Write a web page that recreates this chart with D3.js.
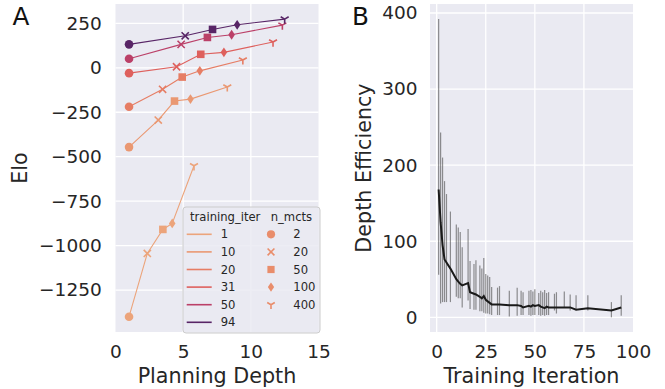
<!DOCTYPE html>
<html><head><meta charset="utf-8">
<script src="https://cdn.jsdelivr.net/npm/d3@7"></script>
<style>body{margin:0;background:#fff}svg{display:block;font-family:"DejaVu Sans",sans-serif}</style>
</head><body><svg id="c" width="665" height="389"></svg>
<script>
// ---------- Panel A data ----------
const trainingIters = [1, 10, 20, 31, 50, 94];
const iterColors = ["#eca47b", "#ea9872", "#e67d64", "#de605d", "#bb4068", "#582566"];
const nMcts = [2, 20, 50, 100, 400];
const markerKinds = ["circle", "x", "square", "diamond", "tri"];
const planningDepth = [
  [1.0, 2.35, 3.50, 4.19, 5.80],
  [1.0, 3.16, 4.36, 5.54, 8.26],
  [1.0, 3.48, 4.93, 6.23, 9.41],
  [1.0, 4.51, 6.30, 8.01, 11.64],
  [1.0, 4.85, 6.79, 8.58, 12.33],
  [1.0, 5.15, 7.17, 8.99, 12.50]
];
const elo = [
  [-1400, -1044, -909, -875, -551],
  [-446, -294, -187, -176, -108],
  [-219, -121, -52, -17, 44],
  [-30, 6, 76, 87, 145],
  [51, 132, 171, 186, 240],
  [132, 180, 216, 242, 274]
];
const eloTicks = [250, 0, -250, -500, -750, -1000, -1250];
const depthTicks = [0, 5, 10, 15];

// ---------- Panel B data ----------
const trainIter = [1,2,3,4,5,7,10,11,12,13,16,17,19,20,22,23,24,25,26,27,28,31,32,37,41,43,44,47,48,49,50,52,53,54,55,56,57,60,61,65,68,71,77,89,94];
const effMean   = [168,125,95,76,72,64,50,47,44,42,45,33,31,30,27,25,28,23,21,19,17,17,17,16,16,15,13,15,14,16,15,16,14,13,12,14,13,13,13,13,13,10,12,9,13];
const effLo     = [56,18,20,20,20,20,27,25,25,13,22,11,10,10,8,8,6,5,5,4,3,3,3,1,2,3,3,3,2,3,3,3,2,3,2,3,3,9,5,13,9,11,9,0,2];
const effHi     = [392,243,210,179,162,139,122,118,112,92,116,74,70,75,68,64,78,57,55,53,40,39,41,35,39,35,33,35,36,34,37,32,35,33,36,32,33,31,33,34,30,29,29,20,29];
const effTicks = [0, 100, 200, 300, 400];
const iterTicks = [0, 25, 50, 75, 100];

const svg = d3.select("#c");
const TXT = "#262626", BG = "#eaeaf2";
const tickFont = 18.5, labelFont = 20.7;

function symbolPath(kind, s) {
  const p = d3.path();
  if (kind === "circle") { p.arc(0, 0, 4.3 * s, 0, 2 * Math.PI); }
  else if (kind === "square") { const h = 3.8 * s; p.rect(-h, -h, 2 * h, 2 * h); }
  else if (kind === "diamond") { const w = 3.3 * s, h = 4.9 * s; p.moveTo(0, -h); p.lineTo(w, 0); p.lineTo(0, h); p.lineTo(-w, 0); p.closePath(); }
  else if (kind === "x") { const h = 3.6 * s; p.moveTo(-h, -h); p.lineTo(h, h); p.moveTo(-h, h); p.lineTo(h, -h); }
  else if (kind === "tri") { const r = 4.6 * s; p.moveTo(0, 0); p.lineTo(0, r); p.moveTo(0, 0); p.lineTo(-r * 0.866, -r * 0.5); p.moveTo(0, 0); p.lineTo(r * 0.866, -r * 0.5); }
  return p.toString();
}
function drawMarker(g, kind, x, y, color, s) {
  const filled = kind === "circle" || kind === "square" || kind === "diamond";
  g.append("path").attr("d", symbolPath(kind, s)).attr("transform", `translate(${x},${y})`)
    .attr("fill", filled ? color : "none").attr("stroke", filled ? "none" : color)
    .attr("stroke-width", filled ? 0 : 1.6);
}

// ---------- Panel A ----------
const axA = {l: 115.5, r: 318.5, t: 4, b: 332};
const xA = d3.scaleLinear().domain([0, 15]).range([axA.l, axA.r]);
const yA = d3.scaleLinear().domain([-1486, 359]).range([axA.b, axA.t]);
const gA = svg.append("g");
gA.append("rect").attr("x", axA.l).attr("y", axA.t).attr("width", axA.r - axA.l).attr("height", axA.b - axA.t).attr("fill", BG);
gA.selectAll(".gx").data(depthTicks.filter(d => xA(d) > axA.l + 1 && xA(d) < axA.r - 1)).join("line")
  .attr("x1", d => xA(d)).attr("x2", d => xA(d)).attr("y1", axA.t).attr("y2", axA.b).attr("stroke", "#fff").attr("stroke-width", 1.3);
gA.selectAll(".gy").data(eloTicks).join("line")
  .attr("y1", d => yA(d)).attr("y2", d => yA(d)).attr("x1", axA.l).attr("x2", axA.r).attr("stroke", "#fff").attr("stroke-width", 1.3);

const lineA = d3.line().x(d => xA(d[0])).y(d => yA(d[1]));
trainingIters.forEach((it, i) => {
  const pts = planningDepth[i].map((d, j) => [d, elo[i][j]]);
  gA.append("path").attr("d", lineA(pts)).attr("fill", "none").attr("stroke", iterColors[i]).attr("stroke-width", 1.1);
});
trainingIters.forEach((it, i) => {
  planningDepth[i].forEach((d, j) => drawMarker(gA, markerKinds[j], xA(d), yA(elo[i][j]), iterColors[i], 1));
});

const yAxA = gA.append("g").attr("transform", `translate(${axA.l},0)`)
  .call(d3.axisLeft(yA).tickValues(eloTicks).tickSize(0).tickPadding(13.8).tickFormat(d3.format("d")));
const xAxA = gA.append("g").attr("transform", `translate(0,${axA.b})`)
  .call(d3.axisBottom(xA).tickValues(depthTicks).tickSize(0).tickPadding(13.2).tickFormat(d3.format("d")));
[yAxA, xAxA].forEach(a => { a.select(".domain").remove(); a.selectAll("text").attr("fill", TXT).style("font-size", tickFont + "px").style("font-family", "DejaVu Sans"); });

gA.append("text").attr("x", (axA.l + axA.r) / 2).attr("y", 383).attr("text-anchor", "middle")
  .attr("fill", TXT).style("font-size", labelFont + "px").text("Planning Depth");
gA.append("text").attr("transform", `translate(27,${(axA.t + axA.b) / 2}) rotate(-90)`).attr("text-anchor", "middle")
  .attr("fill", TXT).style("font-size", labelFont + "px").text("Elo");
svg.append("text").attr("x", 12.5).attr("y", 25).attr("fill", "#111").style("font-size", "24.7px").text("A");

// Legend
const lg = gA.append("g");
lg.append("rect").attr("x", 183).attr("y", 207).attr("width", 137).attr("height", 126).attr("rx", 3)
  .attr("fill", BG).attr("fill-opacity", 0.85).attr("stroke", "#cccccc").attr("stroke-width", 1);
const lgFont = 11.6, rowY0 = 234.3, rowDy = 17.6;
lg.append("text").attr("x", 190).attr("y", 216.7).attr("dy", "0.35em").attr("fill", TXT).style("font-size", lgFont + "px").text("training_iter");
lg.append("text").attr("x", 270.7).attr("y", 216.7).attr("dy", "0.35em").attr("fill", TXT).style("font-size", lgFont + "px").text("n_mcts");
trainingIters.forEach((it, i) => {
  const y = rowY0 + i * rowDy;
  lg.append("line").attr("x1", 186.7).attr("x2", 211.7).attr("y1", y).attr("y2", y).attr("stroke", iterColors[i]).attr("stroke-width", 1.6);
  lg.append("text").attr("x", 220.7).attr("y", y).attr("dy", "0.35em").attr("fill", TXT).style("font-size", lgFont + "px").text(it);
});
nMcts.forEach((n, j) => {
  const y = rowY0 + j * rowDy;
  drawMarker(lg, markerKinds[j], 271, y, "#e98d6b", 0.95);
  lg.append("text").attr("x", 293.3).attr("y", y).attr("dy", "0.35em").attr("fill", TXT).style("font-size", lgFont + "px").text(n);
});

// ---------- Panel B ----------
const axB = {l: 430, r: 633, t: 4, b: 332};
const xB = d3.scaleLinear().domain([-3.4, 100]).range([axB.l, axB.r]);
const yB = d3.scaleLinear().domain([-19.3, 411.8]).range([axB.b, axB.t]);
const gB = svg.append("g");
gB.append("rect").attr("x", axB.l).attr("y", axB.t).attr("width", axB.r - axB.l).attr("height", axB.b - axB.t).attr("fill", BG);
gB.selectAll(".gx").data(iterTicks.filter(d => xB(d) > axB.l + 1 && xB(d) < axB.r - 1)).join("line")
  .attr("x1", d => xB(d)).attr("x2", d => xB(d)).attr("y1", axB.t).attr("y2", axB.b).attr("stroke", "#fff").attr("stroke-width", 1.3);
gB.selectAll(".gy").data(effTicks).join("line")
  .attr("y1", d => yB(d)).attr("y2", d => yB(d)).attr("x1", axB.l).attr("x2", axB.r).attr("stroke", "#fff").attr("stroke-width", 1.3);

gB.selectAll(".eb").data(trainIter).join("line")
  .attr("x1", d => xB(d)).attr("x2", d => xB(d))
  .attr("y1", (d, i) => yB(effLo[i])).attr("y2", (d, i) => yB(effHi[i]))
  .attr("stroke", "#4a4a4a").attr("stroke-opacity", 0.6).attr("stroke-width", 1.2);
gB.append("path").datum(trainIter.map((d, i) => [d, effMean[i]]))
  .attr("d", d3.line().x(d => xB(d[0])).y(d => yB(d[1])))
  .attr("fill", "none").attr("stroke", "#1a1a1a").attr("stroke-width", 2);

const yAxB = gB.append("g").attr("transform", `translate(${axB.l},0)`)
  .call(d3.axisLeft(yB).tickValues(effTicks).tickSize(0).tickPadding(12.5).tickFormat(d3.format("d")));
const xAxB = gB.append("g").attr("transform", `translate(0,${axB.b})`)
  .call(d3.axisBottom(xB).tickValues(iterTicks).tickSize(0).tickPadding(13.2).tickFormat(d3.format("d")));
[yAxB, xAxB].forEach(a => { a.select(".domain").remove(); a.selectAll("text").attr("fill", TXT).style("font-size", tickFont + "px").style("font-family", "DejaVu Sans"); });

gB.append("text").attr("x", (axB.l + axB.r) / 2).attr("y", 383).attr("text-anchor", "middle")
  .attr("fill", TXT).style("font-size", labelFont + "px").text("Training Iteration");
gB.append("text").attr("transform", `translate(370.5,${(axB.t + axB.b) / 2}) rotate(-90)`).attr("text-anchor", "middle")
  .attr("fill", TXT).style("font-size", labelFont + "px").text("Depth Efficiency");
svg.append("text").attr("x", 352).attr("y", 25).attr("fill", "#111").style("font-size", "24.7px").text("B");
</script></body></html>
